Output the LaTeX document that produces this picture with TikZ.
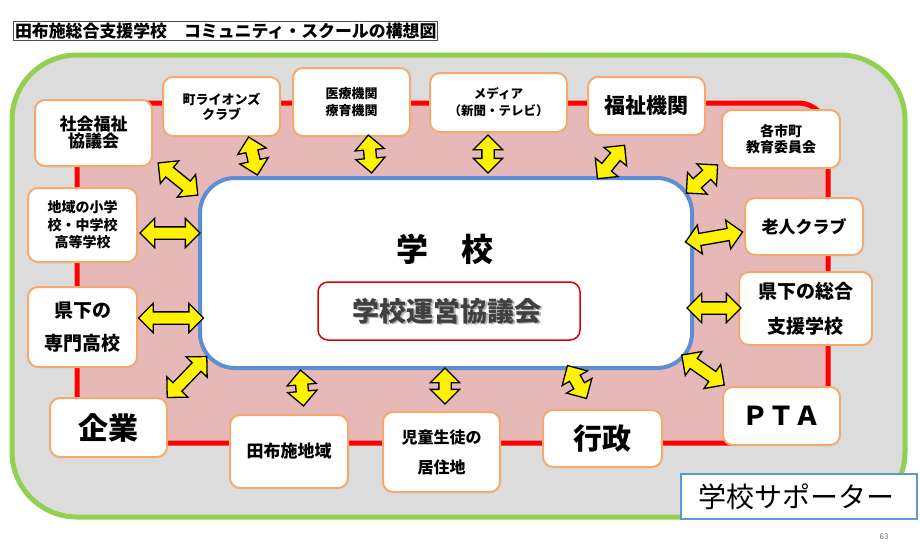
\documentclass[tikz,border=0pt]{standalone}
\usepackage{fontspec}
\setmainfont{Noto Sans CJK JP}
\usetikzlibrary{shapes.arrows}
\definecolor{gfill}{RGB}{220,220,220}
\definecolor{ggreen}{RGB}{146,208,80}
\definecolor{pinkf}{RGB}{230,185,184}
\definecolor{rline}{RGB}{255,0,0}
\definecolor{bline}{RGB}{91,142,214}
\definecolor{oline}{RGB}{244,170,110}
\definecolor{sline}{RGB}{91,155,213}
\newcommand{\fs}[2]{\fontsize{#1}{#2}\selectfont}
\begin{document}
\begin{tikzpicture}[x=1pt,y=-1pt,
  obox/.style={draw=oline, line width=2pt, fill=white, rounded corners=10pt, align=center, inner sep=0pt},
  dblarrow/.style={double arrow, draw=black, line width=1.3pt, fill=yellow, inner xsep=0pt, inner ysep=5.5pt, double arrow head extend=8.5pt}]
\fill[white] (0,0) rectangle (920,550);
\useasboundingbox (0,0) rectangle (920,550);
% title
\node[draw=black!70, line width=1pt, inner sep=1.5pt, anchor=west, font=\fs{16.9}{16.9}\bfseries] (title) at (13,31) {田布施総合支援学校　コミュニティ・スクールの構想図};
% outer frames
\draw[ggreen, line width=5pt, fill=gfill, rounded corners=65pt] (12,55) rectangle (905,517);
\draw[rline, line width=5pt, fill=pinkf, rounded corners=30pt] (77,103) rectangle (828,443);
% school
\node[draw=bline, line width=4pt, fill=white, rounded corners=35pt, minimum width=492pt, minimum height=190pt] (school) at (446,273) {};
\node[font=\fs{32}{32}\bfseries] (gakko) at (445,249) {学\hspace{34pt}校};
\node[draw=red!85!black, line width=1.5pt, fill=white, rounded corners=10pt, minimum width=262pt, minimum height=58pt] (kyogikai) at (449,311) {};
\node[font=\fs{27}{27}\bfseries, text=black!30] at (448.5,312.5) {学校運営協議会};
\node[font=\fs{27}{27}\bfseries, text=black!75] (kyogitxt) at (447,311) {学校運営協議会};
% boxes
\node[obox, minimum width=117pt, minimum height=66pt, font=\fs{17}{17}\bfseries] (swk) at (93.5,133) {社会福祉\\協議会};
\node[obox, minimum width=117pt, minimum height=59pt, font=\fs{13}{15}\bfseries] (lion) at (221.5,106.5) {町ライオンズ\\クラブ};
\node[obox, minimum width=117pt, minimum height=68pt, font=\fs{13}{17}\bfseries] (iryo) at (351.5,102) {医療機関\\療育機関};
\node[obox, minimum width=137pt, minimum height=59pt, font=\fs{12.5}{17}\bfseries] (media) at (498.5,102.5) {メディア\\（新聞・テレビ）};
\node[obox, minimum width=117pt, minimum height=58pt, font=\fs{21}{21}\bfseries] (fukushi) at (646.5,106) {福祉機関};
\node[obox, minimum width=118pt, minimum height=58pt, font=\fs{14}{16}\bfseries] (kyoiku) at (781,139) {各市町\\教育委員会};
\node[obox, minimum width=118pt, minimum height=57pt, font=\fs{17}{17}\bfseries] (rojin) at (804,226.5) {老人クラブ};
\node[obox, minimum width=133pt, minimum height=73pt, font=\fs{19}{35}\bfseries] (kenso) at (805.5,308.5) {県下の総合\\支援学校};
\node[obox, minimum width=117pt, minimum height=58pt, font=\fs{26}{26}\bfseries] (pta) at (781.5,416) {ＰＴＡ};
\node[obox, minimum width=119pt, minimum height=57pt, font=\fs{29}{29}\bfseries] (gyosei) at (602.5,438.5) {行政};
\node[obox, minimum width=117pt, minimum height=80pt, font=\fs{16}{30}\bfseries] (jido) at (441.5,452) {児童生徒の\\居住地};
\node[obox, minimum width=118pt, minimum height=73pt, font=\fs{17}{17}\bfseries] (tabuse) at (289,451.5) {田布施地域};
\node[obox, minimum width=117pt, minimum height=59pt, font=\fs{30}{30}\bfseries] (kigyo) at (108.5,427.5) {企業};
\node[obox, minimum width=109pt, minimum height=80pt, font=\fs{19}{33}\bfseries] (senmon) at (82.5,327) {県下の\\専門高校};
\node[obox, minimum width=109pt, minimum height=74pt, font=\fs{14}{17.5}\bfseries] (chiiki) at (82.5,225) {地域の小学\\校・中学校\\高等学校};
% arrows
\node[dblarrow, minimum height=51pt, rotate=-39] (a1) at (178,179) {};
\node[dblarrow, minimum height=39pt, rotate=103] (a2) at (253,156) {};
\node[dblarrow, minimum height=38pt, rotate=95] (a3) at (370,154) {};
\node[dblarrow, minimum height=38pt, rotate=90] (a4) at (488,154) {};
\node[dblarrow, minimum height=43pt, rotate=51] (a5) at (611,162) {};
\node[dblarrow, minimum height=42pt, rotate=42] (a6) at (702,179) {};
\node[dblarrow, minimum height=58pt, rotate=10] (a7) at (714,237) {};
\node[dblarrow, minimum height=54pt, rotate=0] (a8) at (714,308) {};
\node[dblarrow, minimum height=52pt, rotate=-35] (a9) at (703,370) {};
\node[dblarrow, minimum height=38pt, rotate=-60] (a10) at (577,382) {};
\node[dblarrow, minimum height=36pt, rotate=90] (a11) at (445,386) {};
\node[dblarrow, minimum height=36pt, rotate=95] (a12) at (302,388) {};
\node[dblarrow, minimum height=57pt, rotate=46] (a13) at (187,377) {};
\node[dblarrow, minimum height=65pt, rotate=0] (a14) at (171,318) {};
\node[dblarrow, minimum height=60pt, rotate=0] (a15) at (170,233) {};
% supporter
\node[draw=sline, line width=2pt, fill=white, minimum width=236pt, minimum height=45pt, inner sep=0pt] (sup) at (799,496.5) {};
\node[font=\fs{28}{28}, anchor=west] (suptxt) at (695,496.5) {学校サポーター};
\node[font=\fs{8}{8}, text=black!55] (pg) at (884,537) {63};
\end{tikzpicture}
\end{document}
